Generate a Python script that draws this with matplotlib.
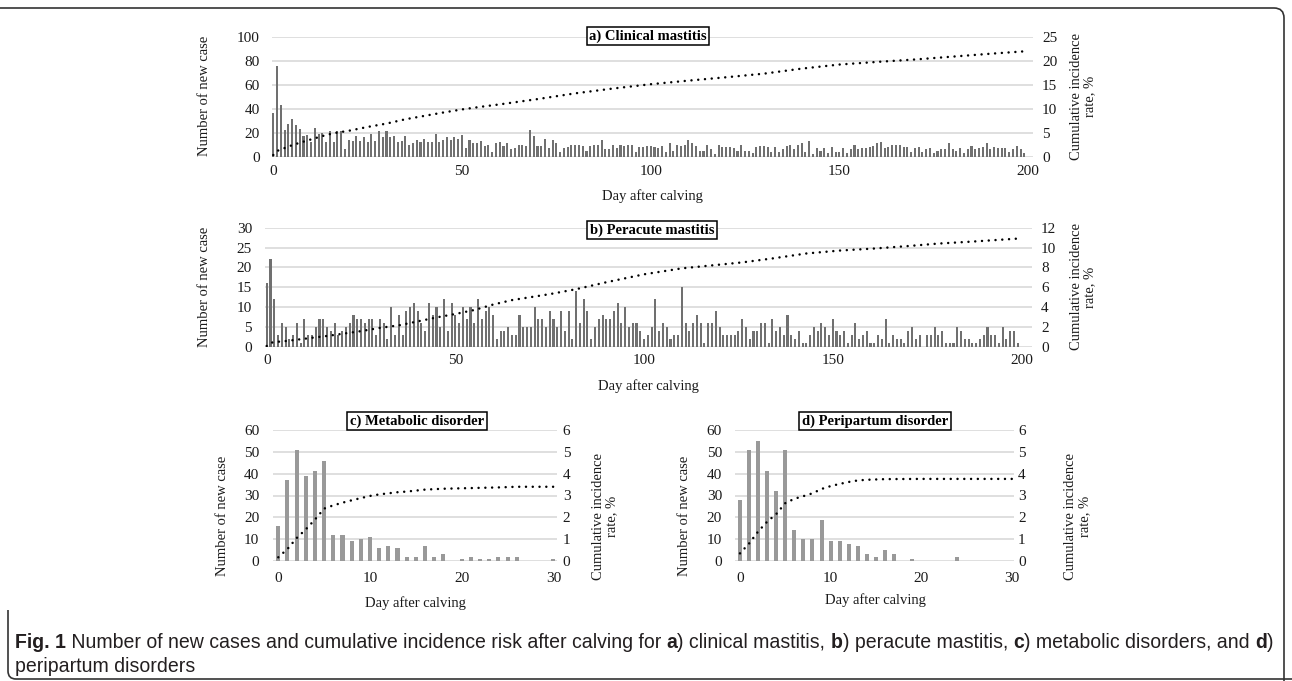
import matplotlib
matplotlib.use('Agg')
import matplotlib.pyplot as plt
import numpy as np
from matplotlib.path import Path
from matplotlib.patches import PathPatch

# ---------------- data ----------------
days_ab = list(range(0, 200))
clinical_counts = [36,76,43,22,27,31,26,23,17,18, 12,24,19,20,12,21,12,21,21,6,
                   14,13,17,13,16,12,19,13,21,16, 21,16,17,12,13,17,10,11,14,12,
                   15,12,12,19,12,14,16,14,16,15, 18,7,14,11,11,13,9,10,4,11,
                   12,9,11,6,7,
                   10,10,9,22,17,9,9,15,7,14, 11,4,7,8,10,10,10,9,5,9,
                   10,10,14,6,6,10,7,10,9,10, 10,4,8,8,9,9,8,7,9,4,
                   11,5,10,9,10,14,11,9,5,5, 10,6,2,10,8,8,8,7,5,10,
                   5,5,3,8,9,9,8,4,8,4,
                   6,9,10,6,10,11,4,13,2,7, 5,7,3,8,4,4,7,3,6,10,
                   6,7,7,8,9,11,12,7,8,10, 10,10,8,8,4,7,8,4,6,7,
                   3,5,6,6,11,6,5,7,3,6, 9,6,7,8,11,6,8,7,7,7,
                   4,6,9,6,3]
clinical_cum_days = [0,1,3,5,7,10,13,16,20,25,30,35,40,45,50,55,60,70,80,90,100,
                     110,120,130,140,150,160,170,180,190,199]
clinical_cum = [0.35,1.2,1.8,2.4,2.9,3.6,4.3,4.9,5.4,6.2,6.9,7.8,8.5,9.2,9.85,10.4,
                10.9,12.0,13.2,14.2,15.1,15.85,16.55,17.3,18.35,19.2,19.75,20.25,
                20.85,21.45,21.95]

peracute_counts = [16,22,12,3,6,5,2,3,6,1, 7,3,3,5,7,7,5,4,6,3,
                   4,5,6,8,7,7,6,7,7,3, 7,6,2,10,3,8,3,9,10,11,
                   9,6,4,11,8,10,5,12,4,11, 8,6,10,7,10,6,12,
                   7,9,10,8,2,4,4,5,3,3, 8,5,5,5,10,7,7,5,9,7,
                   5,9,4,9,2,14,6,12,9,2, 5,7,8,7,7,9,11,6,10,5,
                   6,6,4,2,3,5,12,4,6,5, 2,3,3,15,6,4,6,8,6,1,
                   6,6,9,5,3,3,3,3,4,7, 5,2,4,4,
                   6,6,1,7,4,5,3,8,3,2, 4,1,1,3,5,4,6,5,3,7,
                   4,3,4,1,3,6,2,3,4,1, 1,3,2,7,1,3,2,2,1,4,
                   5,2,3,0,3,3,5,3,4,1, 1,1,5,4,2,2,1,1,2,3,
                   5,3,3,1,5,2,4,4,1]
peracute_cum_days = [0,1,3,5,7,10,13,16,20,25,30,35,40,45,50,55,60,65,75,82,90,100,
                     110,118,126,134,143,152,161,170,178,187,199]
peracute_cum = [0.07,0.4,0.5,0.57,0.66,0.8,0.95,1.08,1.3,1.57,1.9,2.15,2.55,2.95,
                3.3,3.7,4.25,4.7,5.3,5.8,6.5,7.3,7.9,8.2,8.5,8.9,9.4,9.7,9.9,
                10.15,10.4,10.6,10.9]

days_cd = list(range(0, 31))
metabolic_counts = [16,37,51,39,41,46,12,12,9,10,11,6,7,6,2,2,7,2,3,0,
                    1,2,1,1,2,2,2,0,0,0,1]
metabolic_cum_days = [0,1,2,3,4,5,6,7,8,9,10,11,12,13,14,16,18,20,24,26,30]
metabolic_cum = [0.17,0.55,1.05,1.45,1.9,2.4,2.55,2.67,2.78,2.88,2.98,3.05,3.1,
                 3.15,3.18,3.27,3.31,3.33,3.37,3.4,3.4]

peripartum_counts = [28,51,55,41,32,51,14,10,10,19,9,9,8,7,3,2,5,3,0,1,
                     0,0,0,0,2,0,0,0,0,0,0]
peripartum_cum_days = [0,1,2,3,4,5,6,7,8,9,10,11,12,13,14,16,20,30]
peripartum_cum = [0.35,0.8,1.35,1.8,2.15,2.65,2.85,2.97,3.1,3.3,3.43,3.53,3.62,
                  3.69,3.72,3.75,3.76,3.76]

titles = ["a) Clinical mastitis", "b) Peracute mastitis",
          "c) Metabolic disorder", "d) Peripartum disorder"]
left_label = "Number of new case"
right_label = "Cumulative incidence\nrate, %"
x_label = "Day after calving"

# ---------------- figure ----------------
W, H = 1292, 681
fig = plt.figure(figsize=(W / 100, H / 100), dpi=100)
plt.rcParams['font.family'] = ['Liberation Serif', 'DejaVu Serif']
TXT = '#1a1a1a'
GRID = '#d9d9d9'


def P(x, y):
    return x / W, 1 - y / H


def add_ax(left, right, top, bottom):
    return fig.add_axes([left / W, 1 - bottom / H, (right - left) / W, (bottom - top) / H])


def panel(box, days, counts, cdays, cvals, xlim, xticks, ylim_l, yticks_l, ylim_r, yticks_r,
          bar_w, bar_col, lpad, rpad, bpad, fs):
    ax = add_ax(*box)
    ax.bar(days, counts, width=bar_w, color=bar_col, zorder=2, linewidth=0)
    ax.set_xlim(*xlim)
    ax.set_xticks(xticks)
    ax.set_ylim(*ylim_l)
    ax.set_yticks(yticks_l)
    ax.grid(axis='y', color=GRID, lw=1.2, zorder=0)
    ax.set_axisbelow(True)
    for s in ax.spines.values():
        s.set_visible(False)
    ax.tick_params(axis='y', length=0, labelsize=fs, colors=TXT, pad=lpad * 0.72)
    ax.tick_params(axis='x', length=0, labelsize=fs, colors=TXT, pad=bpad * 0.72)
    ax2 = ax.twinx()
    ax2.plot(cdays, cvals, color='black', lw=1.8, linestyle=(0, (0.01, 2.7)),
             dash_capstyle='round', zorder=3)
    ax2.set_ylim(*ylim_r)
    ax2.set_yticks(yticks_r)
    ax2.set_xlim(*xlim)
    for s in ax2.spines.values():
        s.set_visible(False)
    ax2.tick_params(axis='y', length=0, labelsize=fs, colors=TXT, pad=rpad * 0.72)
    return ax, ax2


# panel a
panel((271.7, 1033, 36.7, 156.7), days_ab, clinical_counts, clinical_cum_days, clinical_cum,
      (-0.42, 201.3), [0, 50, 100, 150, 200], (0, 100), range(0, 101, 20), (0, 25), range(0, 26, 5),
      0.55, '#707070', 12, 9, 8, 11)
# panel b
panel((265, 1032, 227.7, 346.7), days_ab, peracute_counts, peracute_cum_days, peracute_cum,
      (-0.45, 202.8), [0, 50, 100, 150, 200], (0, 30), range(0, 31, 5), (0, 12), range(0, 13, 2),
      0.55, '#707070', 13, 9, 7, 11)
# panel c
panel((273.3, 556.7, 430, 561), days_cd, metabolic_counts, metabolic_cum_days, metabolic_cum,
      (-0.545, 30.36), [0, 10, 20, 30], (0, 60), range(0, 61, 10), (0, 6), range(0, 7, 1),
      0.44, '#999999', 14, 6, 11, 11)
# panel d
panel((735, 1014, 430, 561), days_cd, peripartum_counts, peripartum_cum_days, peripartum_cum,
      (-0.55, 30.24), [0, 10, 20, 30], (0, 60), range(0, 61, 10), (0, 6), range(0, 7, 1),
      0.44, '#999999', 13, 4, 11, 11)

LFS = 10.5
title_pos = [(648, 36), (652, 230), (417, 421), (875, 421)]
for t, (x, y) in zip(titles, title_pos):
    fig.text(*P(x, y), t, ha='center', va='center', fontsize=10.5, fontweight='bold', color='black',
             bbox=dict(boxstyle='square,pad=0.18', fc='white', ec='black', lw=1.1), zorder=10)

# axis labels
for (x, y) in [(205, 96), (205, 287), (223, 516), (684, 516)]:
    fig.text(*P(x, y), left_label, rotation=90, ha='center', va='center', fontsize=LFS, color=TXT)
for (x, y) in [(1083, 96), (1083, 287), (605, 516), (1078, 516)]:
    fig.text(*P(x, y), right_label, rotation=90, ha='center', va='center', fontsize=LFS,
             color=TXT, linespacing=1.1)
for (x, y) in [(652, 196), (648, 386), (415, 603), (875, 600)]:
    fig.text(*P(x, y), x_label, ha='center', va='center', fontsize=LFS, color=TXT)

# frame
verts = [(0, 8), (1274, 8), (1284, 8), (1284, 18), (1284, 681)]
codes = [Path.MOVETO, Path.LINETO, Path.CURVE3, Path.CURVE3, Path.LINETO]
fig.add_artist(PathPatch(Path([P(*v) for v in verts], codes), transform=fig.transFigure,
                         fill=False, ec='#333333', lw=1.2))
verts2 = [(8, 610), (8, 671), (8, 679), (16, 679), (1292, 679)]
fig.add_artist(PathPatch(Path([P(*v) for v in verts2], codes), transform=fig.transFigure,
                         fill=False, ec='#333333', lw=1.2))

# caption (fitted to the reference line width)
CAP = ['Liberation Sans', 'DejaVu Sans']
segments = [("Fig. 1", 'bold'),
            (" Number of new cases and cumulative incidence risk after calving for ", 'normal'),
            ("a", 'bold'), (") clinical mastitis, ", 'normal'),
            ("b", 'bold'), (") peracute mastitis, ", 'normal'),
            ("c", 'bold'), (") metabolic disorders, and ", 'normal'),
            ("d", 'bold'), (")", 'normal')]
renderer = fig.canvas.get_renderer()


def draw_caption(fs, keep):
    x = 15
    arts = []
    for s, w in segments:
        t = fig.text(*P(x, 643), s, ha='left', va='center', fontsize=fs, fontweight=w,
                     family=CAP, color='#231f20')
        bb = t.get_window_extent(renderer)
        x += bb.width
        arts.append(t)
    if not keep:
        for a in arts:
            a.remove()
    return x - 15


w0 = draw_caption(12, False)
CFS = 12 * 1258 / w0
draw_caption(CFS, True)
fig.text(*P(15, 666), "peripartum disorders", ha='left', va='center', fontsize=CFS,
         family=CAP, color='#231f20')

fig.savefig('out.png', dpi=100)
